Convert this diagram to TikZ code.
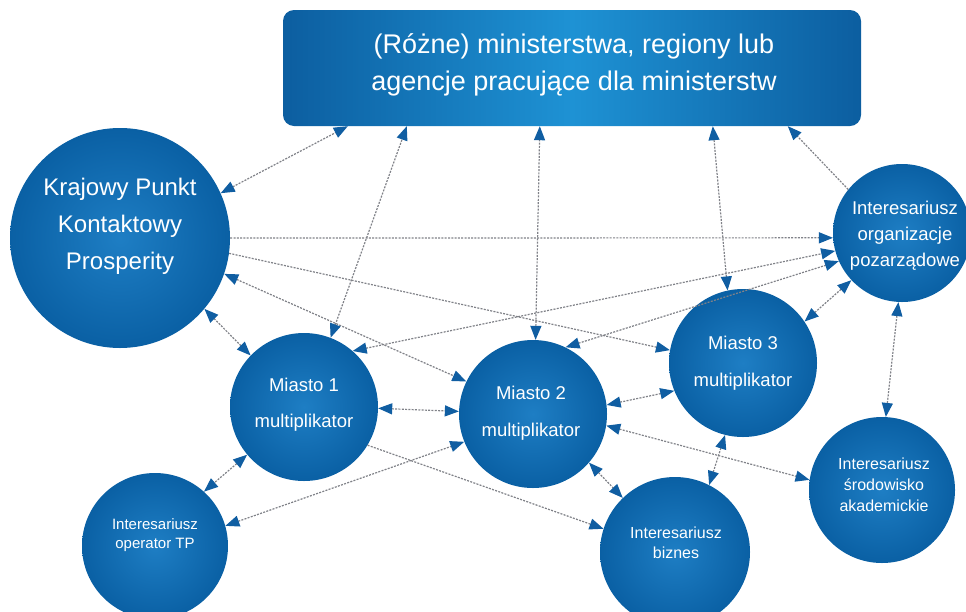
\documentclass[tikz,border=0pt]{standalone}
\usepackage{fontspec}
\setmainfont{Liberation Sans}
\usetikzlibrary{arrows.meta,calc}

\definecolor{nodeblue}{RGB}{10,96,164}
\definecolor{nodelight}{RGB}{30,126,196}
\definecolor{boxdark}{RGB}{12,94,160}
\definecolor{boxlight}{RGB}{30,146,212}
\definecolor{tipblue}{RGB}{16,94,162}
\definecolor{linkgray}{RGB}{128,130,136}

\begin{document}
\begin{tikzpicture}[x=1pt,y=-1pt,
  >={Triangle[length=14pt,width=11pt,color=tipblue]},
  hub/.style={circle, inner sep=0pt, minimum size=#1,
    shading=radial, inner color=nodelight, outer color=nodeblue},
  boxnode/.style={rectangle, rounded corners=11pt, minimum width=578pt,
    minimum height=116pt, left color=boxdark, right color=boxdark,
    middle color=boxlight},
  lbl/.style={text=white, align=center, inner sep=0pt},
  link/.style={draw=linkgray, line width=1.2pt, dash pattern=on 2pt off 1.3pt},
  one/.style={link, ->},
  both/.style={link, <->},
]
\useasboundingbox (0,0) rectangle (966,611);
\fill[white] (0,0) rectangle (966,611);

% ministries box
\node[boxnode] (box) at (572,68) {};
\node[lbl, font=\fontsize{27}{37}\selectfont] (boxT) at (574,65)
  {(Różne) ministerstwa, regiony lub\\agencje pracujące dla ministerstw};

% circles
\node[hub=220pt] (kpk) at (120,238) {};
\node[hub=148pt] (m1)  at (304,407) {};
\node[hub=148pt] (m2)  at (533,414) {};
\node[hub=148pt] (m3)  at (743,363) {};
\node[hub=138pt] (ngo) at (902,233) {};
\node[hub=146pt] (aka) at (882,490) {};
\node[hub=150pt] (biz) at (675,552) {};
\node[hub=146pt] (tp)  at (155,546) {};

% circle labels
\node[lbl, font=\fontsize{24}{37}\selectfont] (kpkT) at (120,226)
  {Krajowy Punkt\\Kontaktowy\\Prosperity};
\node[lbl, font=\fontsize{18.5}{36}\selectfont] (m1T) at (304,405)
  {Miasto 1\\multiplikator};
\node[lbl, font=\fontsize{18.5}{37}\selectfont] (m2T) at (531,413)
  {Miasto 2\\multiplikator};
\node[lbl, font=\fontsize{18.5}{37}\selectfont] (m3T) at (743,363)
  {Miasto 3\\multiplikator};
\node[lbl, font=\fontsize{18.5}{26}\selectfont] (ngoT) at (905,236)
  {Interesariusz\\organizacje\\pozarządowe};
\node[lbl, font=\fontsize{16}{21}\selectfont] (akaT) at (884,485)
  {Interesariusz\\środowisko\\akademickie};
\node[lbl, font=\fontsize{16}{20}\selectfont] (bizT) at (676,543)
  {Interesariusz\\biznes};
\node[lbl, font=\fontsize{15}{19}\selectfont] (tpT) at (155,535)
  {Interesariusz\\operator TP};

% links to the ministries box
\draw[both] (kpk.24) -- ($(box.south west)+(65,0)$);
\draw[both] (m1.69)  -- ($(box.south west)+(124,0)$);
\draw[both] (m2.88)  -- ($(box.south west)+(257,0)$);
\draw[both] (m3.102) -- ($(box.south west)+(430,0)$);
\draw[one]  (ngo.141) -- ($(box.south west)+(505,0)$);

% links from the national contact point
\draw[one]  (kpk.0)   -- (ngo.184);
\draw[one]  (kpk.-8)  -- (m3.170);
\draw[both] (kpk.-19) -- (m2.154);
\draw[both] (kpk.-40) -- (m1.136);

% links to the NGO stakeholder
\draw[both] (m1.49)  -- (ngo.195);
\draw[both] (m2.64)  -- (ngo.204);
\draw[both] (m3.34)  -- (ngo.223);
\draw[both] (ngo.-93) -- (aka.87);

% links between cities and stakeholders
\draw[both] (m1.-1)   -- (m2.178);
\draw[both] (m1.220)  -- (tp.48);
\draw[both] (tp.16)   -- (m2.202);
\draw[one]  (m1.-31)  -- (biz.162);
\draw[both] (m2.7)    -- (m3.202);
\draw[both] (m2.-9)   -- (aka.172);
\draw[both] (m2.-41)  -- (biz.134);
\draw[both] (m3.256)  -- (biz.63);
\end{tikzpicture}
\end{document}
